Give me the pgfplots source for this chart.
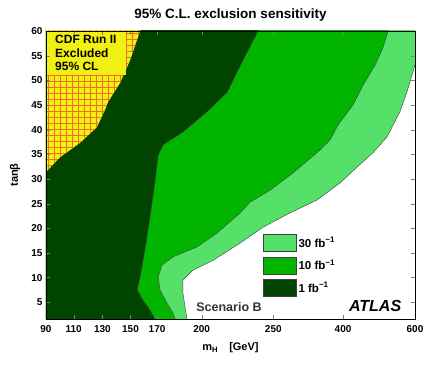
\documentclass[border=0pt]{standalone}
\usepackage{pgfplots}
\pgfplotsset{compat=1.18}
\usepackage{fontspec}
\setmainfont{Liberation Sans}
\usetikzlibrary{patterns.meta}

\definecolor{gLight}{RGB}{85,225,105}
\definecolor{gMed}{RGB}{0,180,0}
\definecolor{gDark}{RGB}{0,68,0}
\definecolor{cdfY}{RGB}{240,240,20}
\definecolor{cdfR}{RGB}{240,110,30}

\begin{document}
\begin{tikzpicture}
\useasboundingbox (-46pt,-56pt) rectangle (394pt,319pt);
\begin{axis}[
    at={(0,0)}, anchor=south west,
    scale only axis, width=369pt, height=288pt,
    xmin=0, xmax=100, ymin=1.6, ymax=60,
    % m_H axis is not linear: ticks placed at their drawn positions
    xtick={0,7.5,15.3,22.9,30.1,42.2,61.6,80.5,100},
    xticklabels={90,110,130,150,170,200,250,400,600},
    ytick={5,10,...,60},
    tick align=inside, major tick length=4pt,
    /pgf/number format/assume math mode=true,
    ticklabel style={font=\bfseries\fontsize{10}{12}\selectfont},
    xticklabel style={yshift=-3pt},
    xlabel={m\textsubscript{H}\quad[GeV]},
    xlabel style={font=\bfseries\fontsize{11}{13}\selectfont, at={(axis description cs:0.5,-0.111)}, anchor=base},
    ylabel={tanβ},
    ylabel style={font=\bfseries\fontsize{11}{13}\selectfont, at={(axis description cs:-0.084,0.5)}, anchor=center},
    axis line style={line width=0.8pt},
    axis on top,
    legend style={at={(axis cs:58.8,18.8)}, anchor=north west, draw=none, fill=none,
        font=\bfseries\fontsize{11.5}{13}\selectfont, row sep=5pt, inner sep=0pt},
    legend cell align=left,
    legend image code/.code={\draw[#1] (0pt,-8.5pt) rectangle (33pt,8.5pt);},
]

% 30 fb^-1
\addplot[fill=gLight, draw=black!75, line width=0.4pt] coordinates {
    (-1,0) (38.2,0) (38.2,1.6) (37.7,4.0) (37.1,6.9) (37.1,9.5) (39.8,11.5)
    (45.3,13.5) (52.6,17.0) (58.8,20.2) (66.1,23.1) (73.4,25.7) (79.7,29.2)
    (84.3,32.4) (88.6,35.3) (92.4,38.5) (95.9,43.6) (97.8,47.6) (100,53.1)
    (101,53.1) (101,61) (-1,61)
} -- cycle;
\addlegendentry{30 fb\textsuperscript{−1}}

% 10 fb^-1
\addplot[fill=gMed, draw=black!75, line width=0.4pt] coordinates {
    (-1,0) (35.0,0) (35.0,1.6) (34.4,2.8) (32.8,4.8) (30.9,7.5) (30.4,10.1)
    (31.4,12.5) (34.4,14.2) (40.9,16.2) (46.3,19.0) (52.6,23.1) (55.3,25.3)
    (60.7,27.7) (66.9,31.2) (73.4,35.3) (77.0,37.9) (79.1,40.9) (83.2,45.0)
    (85.9,49.0) (89.2,53.1) (91.3,56.6) (92.7,60) (93.2,61) (-1,61)
} -- cycle;
\addlegendentry{10 fb\textsuperscript{−1}}

% 1 fb^-1
\addplot[fill=gDark, draw=black!75, line width=0.4pt] coordinates {
    (-1,0) (29.8,0) (29.5,1.6) (28.2,3.4) (26.3,5.4) (24.7,7.5) (25.5,10.1)
    (26.8,15.6) (28.2,22.3) (29.5,29.2) (30.4,34.8) (31.7,36.9) (37.1,39.5)
    (43.6,43.6) (49.1,47.6) (51.8,51.7) (54.5,55.7) (57.5,60) (58,61) (-1,61)
} -- cycle;
\addlegendentry{1 fb\textsuperscript{−1}}

% CDF Run II excluded region
\addplot[forget plot, fill=cdfY, draw=none,
    postaction={pattern={Hatch[angle=0,distance=6pt,line width=0.25pt]}, pattern color=cdfR}]
    coordinates {
    (-1,31.4) (0,31.4) (3.8,34.4) (9.2,37.3) (13.8,40.5) (16.0,44.0) (16.8,45.6)
    (20.1,49.5) (22.8,54.1) (25.5,60) (26,61) (-1,61)
} -- cycle;

\node[fill=cdfY, anchor=north west, inner xsep=9pt, inner ysep=4pt, align=left,
    font=\bfseries\fontsize{12}{13.5}\selectfont] at (rel axis cs:0,1)
    {CDF Run II\\Excluded\\95\% CL};

\node[anchor=base, font=\bfseries\fontsize{12.5}{14}\selectfont, text=black!80]
    at (axis cs:49.6,3.1) {Scenario B};
\node[anchor=base, font=\bfseries\itshape\fontsize{16}{18}\selectfont]
    at (axis cs:89.2,3.1) {ATLAS};
\end{axis}
\node[anchor=base, font=\bfseries\fontsize{13.5}{15}\selectfont] at (184.5pt,300pt)
    {95\% C.L. exclusion sensitivity};
\end{tikzpicture}
\end{document}
